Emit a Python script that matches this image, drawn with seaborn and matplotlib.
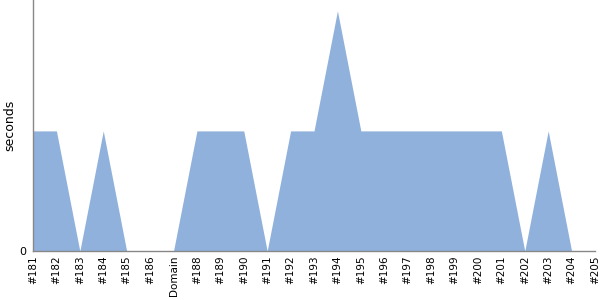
import matplotlib
matplotlib.use("Agg")
import matplotlib.pyplot as plt
import seaborn as sns
import pandas as pd

categories = ["#181", "#182", "#183", "#184", "#185", "#186", "Domain", "#188", "#189", "#190",
              "#191", "#192", "#193", "#194", "#195", "#196", "#197", "#198", "#199", "#200",
              "#201", "#202", "#203", "#204", "#205"]
seconds = [1, 1, 0, 1, 0, 0, 0, 1, 1, 1,
           0, 1, 1, 2, 1, 1, 1, 1, 1, 1,
           1, 0, 1, 0, 0]

sns.set_theme(style="white")
plt.rcParams['font.family'] = ['DejaVu Sans']
plt.rcParams['text.color'] = 'black'
plt.rcParams['axes.labelcolor'] = 'black'
plt.rcParams['xtick.color'] = 'black'
plt.rcParams['ytick.color'] = 'black'

df = pd.DataFrame({"build": categories, "seconds": seconds, "x": range(len(categories))})

fig = plt.figure(figsize=(6, 3), dpi=100)
ax = fig.add_axes([0.055, 0.1633, 0.9367, 0.8367])
ax.fill_between(df["x"], df["seconds"], 0, color="#8fb1db", linewidth=0)
sns.lineplot(data=df, x="x", y="seconds", ax=ax, color="#8fb1db", linewidth=0)

ax.set_xlim(0, len(categories) - 1)
ax.set_ylim(0, 2.09)
ax.set_xticks(df["x"])
ax.set_xticklabels(categories, rotation=90, fontsize=7.5, color="black")
ax.set_yticks([0])
ax.set_yticklabels(["0"], fontsize=8, color="black")
ax.set_xlabel("")
ax.set_ylabel("seconds", fontsize=9, color="black")
ax.yaxis.set_label_coords(-0.029, 0.5)
ax.tick_params(axis="y", length=3, width=0.8, color="#888888", pad=2)
ax.tick_params(axis="x", length=0, pad=3)
for s in ["top", "right"]:
    ax.spines[s].set_visible(False)
for s in ["left", "bottom"]:
    ax.spines[s].set_color("#888888")
    ax.spines[s].set_linewidth(1)

fig.savefig("out.png", dpi=100)
